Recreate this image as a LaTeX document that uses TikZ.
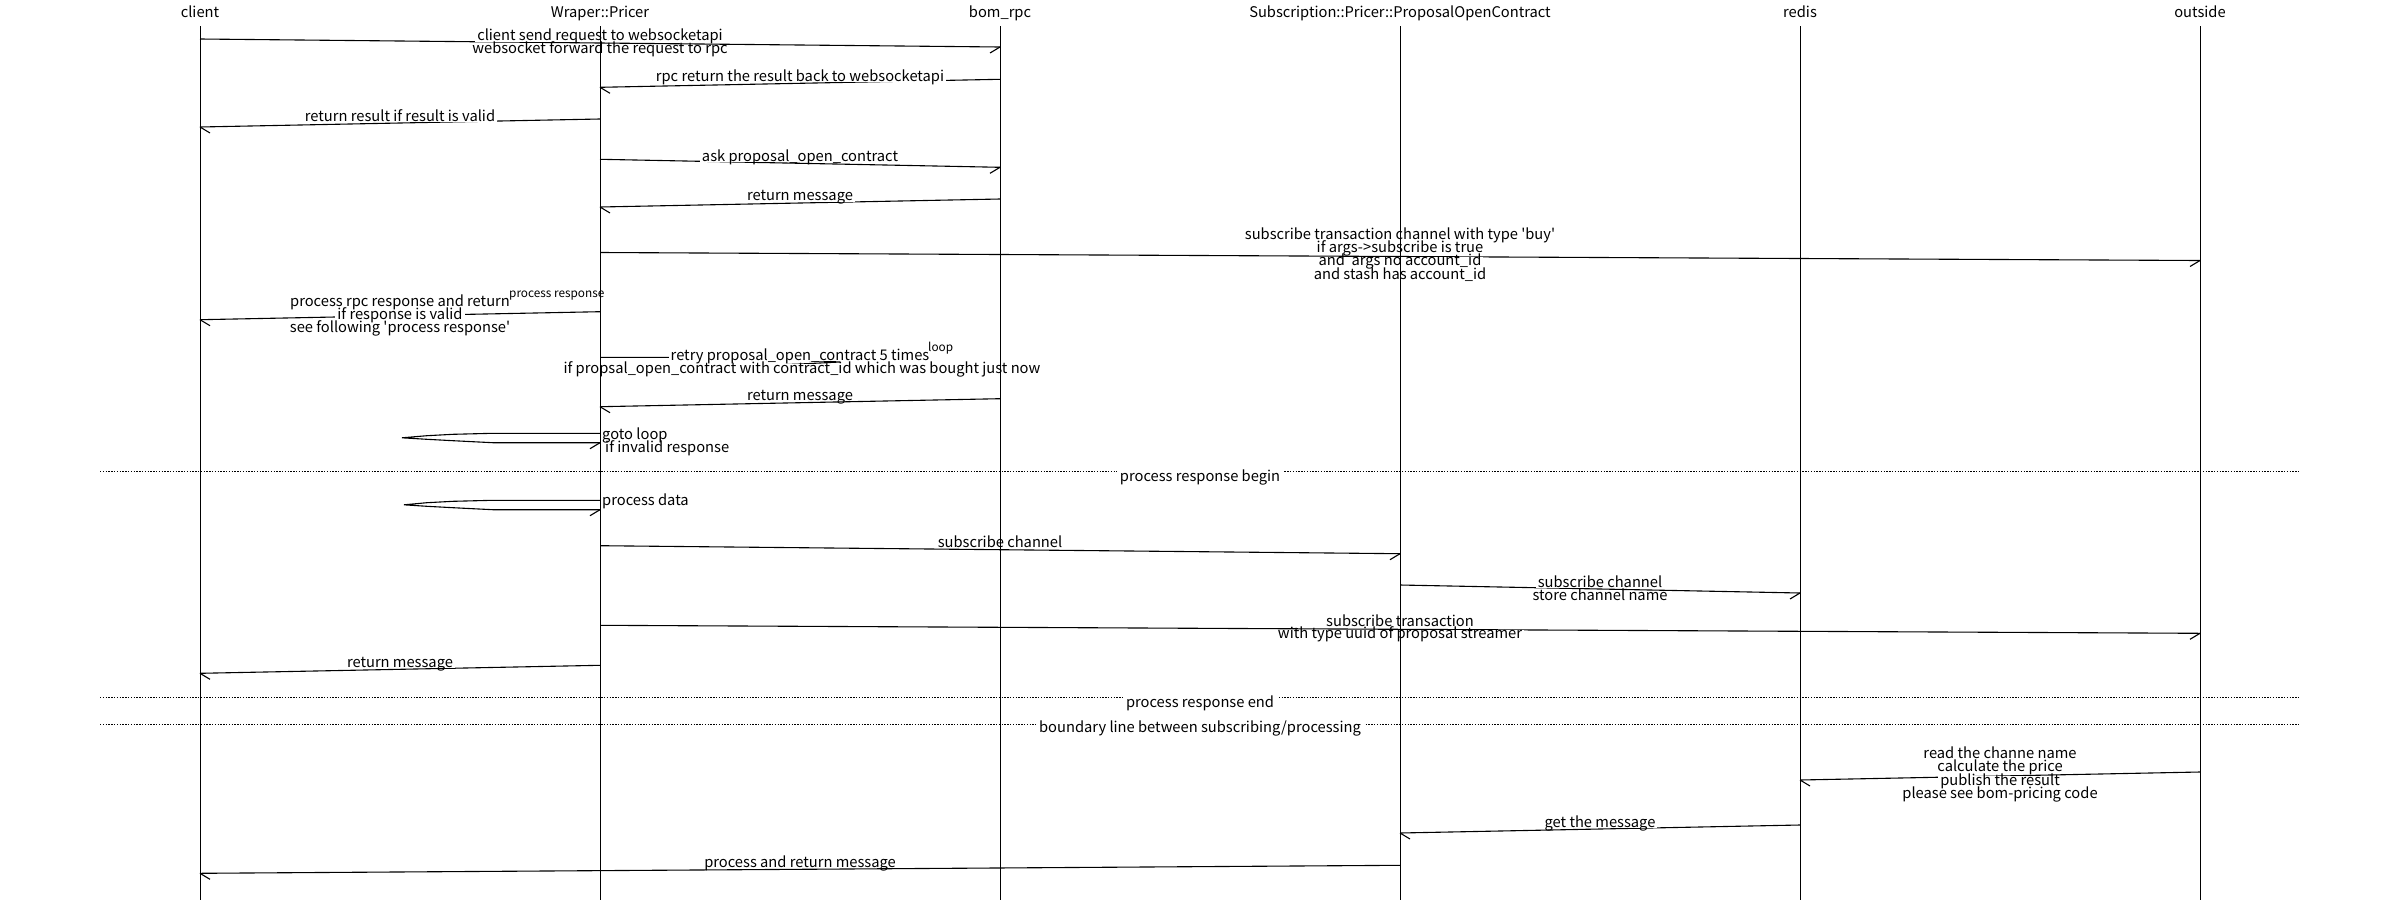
\documentclass[tikz,border=0pt]{standalone}
\usepackage{fontspec}
\setmainfont{Noto Sans CJK SC}[Ligatures=TeXOff]
\newcommand\lblfont{\fontsize{14.7}{14.7}\selectfont}
\newcommand\supfont{\fontsize{11.8}{11.8}\selectfont}
\tikzset{
  life/.style={line width=1pt, black},
  msg/.style={line width=1.1pt, black},
  lbl/.style={fill=white, inner xsep=2pt, inner ysep=0pt, text height=9pt, text depth=1pt, anchor=base, font=\lblfont},
  lblw/.style={lbl, anchor=base west},
  hdr/.style={inner sep=0pt, anchor=base, font=\lblfont},
  suplbl/.style={fill=white, inner sep=0pt, anchor=base west, font=\supfont},
  sepline/.style={line width=1pt, dash pattern=on 1.4pt off 1.4pt},
  seplbl/.style={fill=white, inner xsep=3pt, inner ysep=1pt, text height=11pt, text depth=2pt, anchor=base, font=\lblfont}
}
\newcommand\arrR[3]{\coordinate (#1s) at #2; \coordinate (#1e) at #3;
  \draw[msg] (#1s) -- (#1e); \draw[msg] (#1e) -- ++(-10,6);}
\newcommand\arrL[3]{\coordinate (#1s) at #2; \coordinate (#1e) at #3;
  \draw[msg] (#1s) -- (#1e); \draw[msg] (#1e) -- ++(10,6);}
\begin{document}
\begin{tikzpicture}[x=1pt, y=-1pt]
\useasboundingbox (0,0) rectangle (2400,900);
\fill[white] (0,0) rectangle (2400,900);

% separators
\coordinate (s1a) at (100,471.5); \coordinate (s1b) at (2300,471.5);
\coordinate (s2a) at (100,697.5); \coordinate (s2b) at (2300,697.5);
\coordinate (s3a) at (100,724);   \coordinate (s3b) at (2300,724);
\draw[sepline] (s1a) -- (s1b);
\draw[sepline] (s2a) -- (s2b);
\draw[sepline] (s3a) -- (s3b);
\node[seplbl] (s1t) at (1200,481) {process response begin};
\node[seplbl] (s2t) at (1200,707) {process response end};
\node[seplbl] (s3t) at (1200,732.5) {boundary line between subscribing/processing};

% messages
\arrR{m1}{(200,39)}{(1000,47)}
\arrL{m2}{(1000,79.3)}{(600,87.3)}
\arrL{m3}{(600,119)}{(200,127)}
\arrR{m4}{(600,159.3)}{(1000,167.3)}
\arrL{m5}{(1000,199)}{(600,207)}
\arrR{m6}{(600,252.5)}{(2200,260.5)}
\arrL{m7}{(600,311.7)}{(200,319.7)}
% retry spike (self message)
\coordinate (m8s) at (600,357.3); \coordinate (m8e) at (600,367.3);
\draw[msg] (m8s) -- (709,357.3) -- (760,358.5) -- (800,360) -- (840,362)
  -- (800,364) -- (760,365.5) -- (709,367.3) -- (m8e);
\draw[msg] (m8e) -- ++(10,6);
\arrL{m9}{(1000,398.7)}{(600,406.7)}
% goto loop spike
\coordinate (m10s) at (600,433.3); \coordinate (m10e) at (600,442.7);
\draw[msg] (m10s) -- (492.7,433.3) -- (453,434.3) -- (427,435.7) -- (402,437.8)
  -- (427,439.3) -- (453,440.7) -- (492.7,442.7) -- (m10e);
\draw[msg] (m10e) -- ++(-10,6);
% process data spike
\coordinate (m11s) at (600,500.3); \coordinate (m11e) at (600,509.7);
\draw[msg] (m11s) -- (492.7,500.3) -- (453,501.3) -- (427,502.7) -- (404,504.8)
  -- (427,506.3) -- (453,507.7) -- (492.7,509.7) -- (m11e);
\draw[msg] (m11e) -- ++(-10,6);
\arrR{m12}{(600,545.7)}{(1400,553.7)}
\arrR{m13}{(1400,585)}{(1800,593)}
\arrR{m14}{(600,625.3)}{(2200,633.3)}
\arrL{m15}{(600,665.3)}{(200,673.3)}
\arrL{m16}{(2200,772)}{(1800,780)}
\arrL{m17}{(1800,825)}{(1400,833)}
\arrL{m18}{(1400,865.3)}{(200,873.3)}

% labels
\node[lbl] (m1a) at (600,40.7) {client send request to websocketapi};
\node[lbl] (m1b) at (600,53.6) {websocket forward the request to rpc};
\node[lbl] (m2a) at (800,81) {rpc return the result back to websocketapi};
\node[lbl] (m3a) at (400,121) {return result if result is valid};
\node[lbl] (m4a) at (800,161) {ask proposal\_open\_contract};
\node[lbl] (m5a) at (800,200.5) {return message};
\node[lbl] (m6a) at (1400,239) {subscribe transaction channel with type 'buy'};
\node[lbl] (m6b) at (1400,252.3) {if args->subscribe is true};
\node[lbl] (m6c) at (1400,265.7) {and\ \ args no account\_id};
\node[lbl] (m6d) at (1400,279) {and stash has account\_id};
\node[lbl] (m7a) at (400,306) {process rpc response and return};
\node[lbl] (m7b) at (400,319.2) {if response is valid};
\node[lbl] (m7c) at (400,332) {see following 'process response'};
\node[suplbl] (m7d) at (509,297.3) {process response};
\node[lbl] (m8a) at (800,360) {retry proposal\_open\_contract 5 times};
\node[lbl] (m8b) at (802,373.3) {if propsal\_open\_contract with contract\_id which was bought just now};
\node[suplbl] (m8c) at (928,351.7) {loop};
\node[lbl] (m9a) at (800,400) {return message};
\node[lblw] (m10a) at (600,439) {goto loop};
\node[lblw] (m10b) at (603,452) {if invalid response};
\node[lblw] (m11a) at (600,505.7) {process data};
\node[lbl] (m12a) at (1000,547) {subscribe channel};
\node[lbl] (m13a) at (1600,587.3) {subscribe channel};
\node[lbl] (m13b) at (1600,600) {store channel name};
\node[lbl] (m14a) at (1400,626) {subscribe transaction};
\node[lbl] (m14b) at (1400,638.7) {with type uuid of proposal streamer};
\node[lbl] (m15a) at (400,667) {return message};
\node[lbl] (m16a) at (2000,758.3) {read the channe name};
\node[lbl] (m16b) at (2000,771.7) {calculate the price};
\node[lbl] (m16c) at (2000,785) {publish the result};
\node[lbl] (m16d) at (2000,798.3) {please see bom-pricing code};
\node[lbl] (m17a) at (1600,827) {get the message};
\node[lbl] (m18a) at (800,867) {process and return message};

% headers and lifelines
\foreach \i/\x/\t in {1/200/client, 2/600/Wraper::Pricer, 3/1000/bom\_rpc,
    4/1400/Subscription::Pricer::ProposalOpenContract, 5/1800/redis, 6/2200/outside} {
  \node[hdr] (h\i) at (\x,17.5) {\t};
  \coordinate (l\i t) at (\x,26);
  \coordinate (l\i b) at (\x,900);
  \draw[life] (l\i t) -- (l\i b);
}
\end{tikzpicture}
\end{document}
